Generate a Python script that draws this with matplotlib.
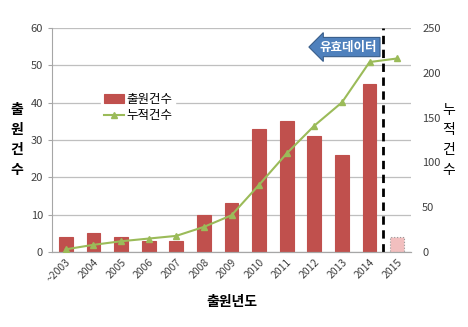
import numpy as np
import matplotlib.pyplot as plt

plt.rcParams['font.family'] = ['Noto Sans CJK KR', 'DejaVu Sans']

years = ['~2003', '2004', '2005', '2006', '2007', '2008', '2009',
         '2010', '2011', '2012', '2013', '2014', '2015']
counts = [4, 5, 4, 3, 3, 10, 13, 33, 35, 31, 26, 45, 4]
cumulative = [3, 8, 12, 15, 18, 28, 41, 75, 110, 141, 167, 212, 216]

x = np.arange(len(years))
bar_colors = ['#C0504D'] * (len(years) - 1) + ['#F2BFBF']
edge_colors = ['#C0504D'] * (len(years) - 1) + ['#999999']

fig = plt.figure(figsize=(4.68, 3.27), dpi=100)
ax = fig.add_axes([52 / 468, 1 - 252 / 327, (411 - 52) / 468, (252 - 28) / 327])
ax2 = ax.twinx()

bars = ax.bar(x, counts, width=0.5, color=bar_colors, edgecolor=edge_colors,
              linewidth=0.8, label='출원건수', zorder=2)
bars[-1].set_linestyle(':')
line, = ax2.plot(x, cumulative, color='#9BBB59', lw=1.5, marker='^', ms=5,
                 label='누적건수', zorder=3)

ax.set_xlim(-0.5, len(years) - 0.5)
ax.set_ylim(0, 60)
ax2.set_ylim(0, 250)
ax.set_yticks(range(0, 61, 10))
ax2.set_yticks(range(0, 251, 50))
ax.yaxis.grid(True, color='#BFBFBF', lw=0.9, zorder=0)
ax.set_axisbelow(True)

for a in (ax, ax2):
    for s in ('top', 'right', 'left'):
        a.spines[s].set_visible(False)
    a.spines['bottom'].set_color('#A6A6A6')
    a.tick_params(length=0, labelsize=8, colors='#404040')
ax.spines['left'].set_visible(True)
ax.spines['left'].set_color('#A6A6A6')
ax.tick_params(axis='y', length=3, color='#A6A6A6')
ax2.tick_params(axis='y', pad=8)

ax.set_xticks(x)
ax.set_xticklabels(years, rotation=45, ha='right', rotation_mode='anchor', fontsize=7.5)

ax.set_xlabel('출원년도', fontsize=10, fontweight='bold', labelpad=8)
ax.set_ylabel('출\n원\n건\n수', rotation=0, fontsize=10, fontweight='bold',
              va='center', labelpad=10, linespacing=1.55)
ax2.set_ylabel('누\n적\n건\n수', rotation=0, fontsize=10,
               va='center', labelpad=6, linespacing=1.55)

ax.axvline(11.5, color='black', ls=(0, (3, 2)), lw=2, zorder=4)

ax.text(0.905, 0.915, '유효데이터', transform=ax.transAxes, ha='right', va='center',
        color='white', fontsize=9, fontweight='bold', zorder=5,
        bbox=dict(boxstyle='larrow,pad=0.25', fc='#4F81BD', ec='#385D8A', lw=0.8))

leg = fig.legend([bars, line], ['출원건수', '누적건수'], loc='upper left',
                 bbox_to_anchor=(95 / 468, 1 - 84 / 327), frameon=True,
                 fontsize=9, handlelength=1.6, handletextpad=0.2,
                 labelspacing=0.3, borderpad=0.2)
leg.get_frame().set_edgecolor('white')
leg.get_frame().set_alpha(1)

fig.savefig('out.png', dpi=100)
